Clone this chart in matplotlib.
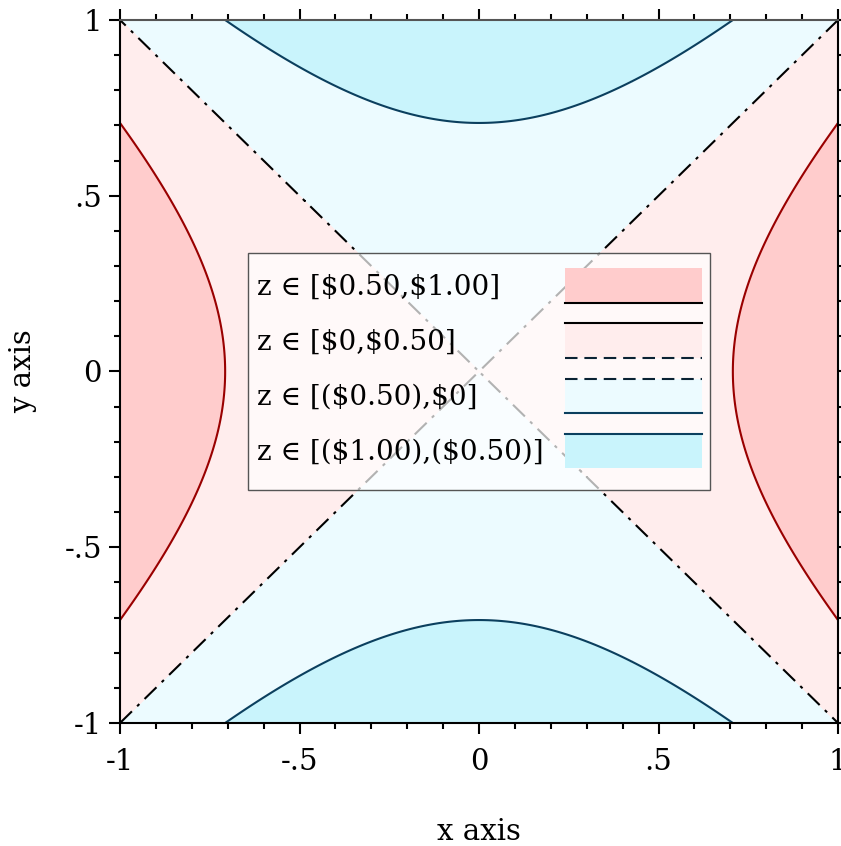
import numpy as np
import matplotlib.pyplot as plt
from matplotlib.patches import Rectangle
from matplotlib.lines import Line2D

plt.rcParams['font.family'] = ['DejaVu Serif']

# contour levels and styling data
levels = [-1.0, -0.5, 0.0, 0.5, 1.0]
fill_colors = ['#c9f4fc', '#ecfbff', '#ffeded', '#ffcccc']
line_levels = [-0.5, 0.0, 0.5]
line_colors = ['#0b3f5e', 'black', '#990000']
line_styles = ['-', (0, (8, 3.5, 1.5, 3.5)), '-']

legend_labels = ['z \u2208 [\\$0.50,\\$1.00]', 'z \u2208 [\\$0,\\$0.50]',
                 'z \u2208 [(\\$0.50),\\$0]', 'z \u2208 [(\\$1.00),(\\$0.50)]']
legend_fills = ['#ffcccc', '#ffeded', '#ecfbff', '#c9f4fc']
# (top line, bottom line) per legend swatch: (color, style) or None
legend_edges = [(None, ('black', '-')),
                (('black', '-'), ('#0a2233', (0, (6, 3.3)))),
                (('#0a2233', (0, (6, 3.3))), ('#0b3f5e', '-')),
                (('#0b3f5e', '-'), None)]

tick_vals = [-1, -0.5, 0, 0.5, 1]
tick_labels = ['-1', '-.5', '0', '.5', '1']

# surface z = x^2 - y^2 on the unit square
x = np.linspace(-1, 1, 401)
y = np.linspace(-1, 1, 401)
X, Y = np.meshgrid(x, y)
Z = X**2 - Y**2

fig = plt.figure(figsize=(8.41, 8.46), dpi=100)
ax = fig.add_axes([120/841, 1 - 723/846, 718/841, 703/846])

ax.contourf(X, Y, Z, levels=levels, colors=fill_colors)
cs = ax.contour(X, Y, Z, levels=line_levels, colors=line_colors, linewidths=1.5)
cs.set_linestyles(line_styles)

ax.set_xlim(-1, 1)
ax.set_ylim(-1, 1)
ax.set_xticks(tick_vals)
ax.set_xticklabels(tick_labels)
ax.set_yticks(tick_vals)
ax.set_yticklabels(tick_labels)
ax.set_xticks(np.arange(-1, 1.01, 0.1), minor=True)
ax.set_yticks(np.arange(-1, 1.01, 0.1), minor=True)
ax.tick_params(which='both', direction='out', top=True, right=True,
               labelsize=21, width=1.5)
ax.tick_params(which='major', length=8)
ax.tick_params(which='minor', length=4.5)
ax.tick_params(axis='x', pad=10)
ax.tick_params(axis='y', pad=5)
for s in ax.spines.values():
    s.set_linewidth(1.5)
ax.spines['top'].set_color('#555555')

ax.set_xlabel('x axis', fontsize=21, labelpad=30)
ax.set_ylabel('y axis', fontsize=21, labelpad=20)

# legend box drawn in axes fraction
lx0, lx1, ly0, ly1 = 0.178, 0.822, 0.331, 0.669
ax.add_patch(Rectangle((lx0, ly0), lx1 - lx0, ly1 - ly0, transform=ax.transAxes,
                       facecolor='white', alpha=0.7, edgecolor='none', zorder=5))
ax.add_patch(Rectangle((lx0, ly0), lx1 - lx0, ly1 - ly0, transform=ax.transAxes,
                       facecolor='none', edgecolor='#555555', linewidth=1.0, zorder=6))
row_h = 0.0785
sw_x0, sw_x1 = 0.620, 0.810
top0 = 0.647
for i, lab in enumerate(legend_labels):
    t = top0 - i * row_h
    b = t - 0.049
    ax.text(0.191, (t + b) / 2 - 0.002, lab, transform=ax.transAxes, fontsize=20,
            va='center', ha='left', zorder=7)
    ax.add_patch(Rectangle((sw_x0, b), sw_x1 - sw_x0, t - b, transform=ax.transAxes,
                           facecolor=legend_fills[i], edgecolor='none', zorder=7))
    top_e, bot_e = legend_edges[i]
    for e, yy in ((top_e, t), (bot_e, b)):
        if e is None:
            continue
        ax.add_line(Line2D([sw_x0, sw_x1], [yy, yy], transform=ax.transAxes,
                           color=e[0], linestyle=e[1], linewidth=1.5, zorder=8))

fig.savefig('out.png', dpi=100)
